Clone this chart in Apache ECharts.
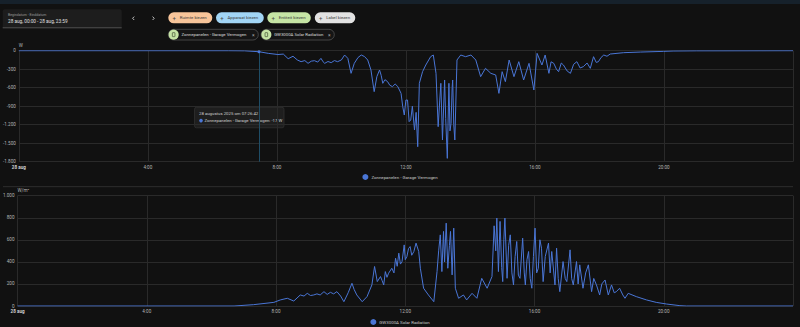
<!DOCTYPE html>
<html><head><meta charset="utf-8">
<script src="https://cdn.jsdelivr.net/npm/echarts@6/dist/echarts.min.js"></script>
<style>html,body{margin:0;padding:0;background:#111111;}#c{width:800px;height:327px;}</style>
</head><body><div id="c"></div>
<script>
// ---- Data ----
const topName = "Zonnepanelen - Garage Vermogen";
const bottomName = "GW3000A Solar Radiation";
const xTickHours = [0, 4, 8, 12, 16, 20];
const xTickLabels = ["28 aug", "4:00", "8:00", "12:00", "16:00", "20:00"];
const cursorTime = "7:26:42";
const cursorValue = -17;

const topTimes = ["0:00","6:30","7:00","7:27","7:44","8:02","8:12","8:21","8:30","8:38","8:45","8:52","8:58","9:04","9:10","9:16","9:22","9:26","9:29","9:35","9:41","9:47","9:53","10:00","10:06","10:12","10:18","10:24","10:31","10:37","10:43","10:49","10:55","11:01","11:06","11:11","11:14","11:17","11:21","11:26","11:30","11:35","11:40","11:45","11:51","11:54","11:57","12:00","12:03","12:06","12:09","12:12","12:16","12:19","12:22","12:25","12:31","12:37","12:46","12:51","12:56","13:00","13:03","13:05","13:08","13:12","13:14","13:17","13:20","13:22","13:24","13:26","13:27","13:29","13:31","13:35","13:42","13:51","14:01","14:10","14:19","14:28","14:38","14:47","14:53","14:59","15:05","15:12","15:21","15:30","15:39","15:49","15:58","16:04","16:13","16:19","16:26","16:30","16:35","16:40","16:44","16:49","16:53","17:00","17:06","17:12","17:18","17:24","17:30","17:37","17:43","17:49","17:54","17:58","18:03","18:08","18:14","18:20","18:45","19:16","19:59","20:17","21:00","24:00"];
const topValues = [0,0,-2,-17,-43,-62,-55,-130,-90,-150,-178,-160,-205,-170,-162,-185,-124,-180,-205,-175,-194,-160,-178,-150,-70,-124,-367,-205,-110,-70,-95,-151,-313,-664,-420,-313,-400,-529,-470,-502,-560,-583,-540,-583,-692,-900,-1043,-800,-800,-1150,-1124,-900,-1286,-1000,-1557,-529,-340,-232,-97,-70,-367,-1232,-800,-529,-1448,-475,-1100,-1746,-529,-1300,-1178,-600,-475,-1200,-1448,-151,-70,-97,-70,-151,-421,-286,-367,-394,-692,-340,-502,-151,-421,-178,-475,-205,-637,-43,-232,-70,-367,-180,-205,-300,-340,-200,-232,-330,-367,-220,-178,-280,-259,-200,-286,-97,-190,-178,-110,-70,-90,-54,-32,-22,-11,-5,-2,0];

const bottomTimes = ["0:00","6:42","7:18","7:56","8:08","8:21","8:33","8:45","8:52","8:58","9:04","9:10","9:16","9:22","9:29","9:35","9:41","9:47","9:53","10:00","10:06","10:14","10:21","10:25","10:30","10:40","10:49","10:58","11:03","11:08","11:14","11:17","11:20","11:23","11:26","11:29","11:35","11:39","11:42","11:45","11:48","11:51","11:54","11:58","12:00","12:03","12:06","12:09","12:12","12:16","12:20","12:25","12:28","12:34","12:43","12:53","12:59","13:02","13:05","13:08","13:11","13:13","13:16","13:19","13:22","13:24","13:27","13:30","13:33","13:39","13:48","13:54","14:04","14:13","14:22","14:32","14:41","14:45","14:48","14:50","14:53","14:56","14:59","15:01","15:03","15:05","15:09","15:12","15:15","15:18","15:21","15:24","15:27","15:30","15:33","15:38","15:41","15:43","15:46","15:49","15:52","15:55","15:58","16:01","16:04","16:07","16:10","16:13","16:16","16:20","16:26","16:29","16:32","16:38","16:41","16:44","16:47","16:53","16:57","17:00","17:06","17:09","17:12","17:18","17:21","17:24","17:30","17:35","17:40","17:46","17:50","17:55","18:01","18:05","18:11","18:17","18:23","18:28","18:32","18:38","18:44","18:48","18:54","19:09","19:28","19:46","20:05","20:30","20:42","24:00"];
const bottomValues = [0,0,12,33,55,70,45,100,90,115,95,100,110,100,130,105,124,110,130,90,39,120,206,150,100,39,85,191,358,221,267,230,191,312,260,297,342,300,433,360,479,380,403,554,420,448,520,539,460,494,570,494,342,161,100,39,312,500,645,312,676,400,751,342,550,676,282,706,161,70,100,55,115,70,251,161,267,727,500,797,312,767,350,221,600,797,251,550,645,300,191,450,585,280,251,615,300,191,420,494,250,161,450,706,300,342,600,524,221,450,570,300,494,191,524,250,130,403,250,221,509,250,191,403,200,373,161,300,373,130,250,191,100,200,236,100,191,120,130,161,100,70,115,85,55,33,18,3,0,0];

// ---- Helpers ----
function hrs(t){ const p = t.split(':'); return (+p[0]) + (+p[1])/60 + (p[2]? (+p[2])/3600 : 0); }
function pairs(ts, vs){ return ts.map((t,i)=>[hrs(t), vs[i]]); }
function nl(v){ const a = Math.abs(v); let s = a >= 1000 ? Math.floor(a/1000) + '.' + String(a%1000).padStart(3,'0') : String(a); return (v<0?'-':'') + s; }
function xFmt(v){ const i = xTickHours.indexOf(v); if(i<0) return ''; return i===0 ? '{b|'+xTickLabels[0]+'}' : xTickLabels[i]; }

const FONT = 'Roboto';
const LC = '#4a76d6';
const axisLabelStyle = {color:'#b5b5b5', fontSize:4.6, fontFamily:FONT};

const chart = echarts.init(document.getElementById('c'), null, {renderer:'svg'});

function chip(x, y, w, h, fill, label){
  return {type:'group', children:[
    {type:'rect', shape:{x:x,y:y,width:w,height:h,r:h/2}, style:{fill:fill}},
    {type:'text', style:{x:x+6, y:y+h/2, text:'+', fill:'#4a4a4a', fontSize:6, fontFamily:FONT, align:'center', verticalAlign:'middle'}},
    {type:'text', style:{x:x+11.5, y:y+h/2, text:label, fill:'#3a3a3a', fontSize:4.3, fontFamily:FONT, verticalAlign:'middle'}}
  ]};
}
function entChip(x, y, w, h, label){
  return {type:'group', children:[
    {type:'rect', shape:{x:x,y:y,width:w,height:h,r:h/2}, style:{fill:'#151515', stroke:'#5a5a5a', lineWidth:0.7}},
    {type:'circle', shape:{cx:x+h/2, cy:y+h/2, r:h/2-0.3}, style:{fill:'#c5e3a5'}},
    {type:'rect', shape:{x:x+h/2-1.3, y:y+h/2-2, width:2.6, height:4, r:0.4}, style:{fill:'none', stroke:'#2d3a22', lineWidth:0.6}},
    {type:'text', style:{x:x+h+2.5, y:y+h/2, text:label, fill:'#dcdcdc', fontSize:4.3, fontFamily:FONT, verticalAlign:'middle'}},
    {type:'text', style:{x:x+w-5, y:y+h/2, text:'×', fill:'#aaaaaa', fontSize:5, fontFamily:FONT, align:'center', verticalAlign:'middle'}}
  ]};
}

const option = {
  backgroundColor:'#111111',
  animation:false,
  textStyle:{fontFamily:FONT},
  grid:[
    {left:17, right:7, top:50.7, height:111},
    {left:17, right:7, top:195.7, height:110.3}
  ],
  legend:[
    {data:[topName], left:'center', top:174, padding:0, icon:'circle', itemWidth:6, itemHeight:6, itemGap:4,
     textStyle:{color:'#c8c8c8', fontSize:4.4, fontFamily:FONT, padding:[0,0,0,-2]}, selectedMode:false},
    {data:[bottomName], left:'center', top:319, padding:0, icon:'circle', itemWidth:6, itemHeight:6, itemGap:4,
     textStyle:{color:'#c8c8c8', fontSize:4.4, fontFamily:FONT, padding:[0,0,0,-2]}, selectedMode:false}
  ],
  xAxis:[0,1].map(i=>({
    type:'value', gridIndex:i, min:0, max:24, interval:4,
    axisLine:{show:false}, axisTick:{show:false},
    splitLine:{show:true, lineStyle:{color:'#2a2a2a', width:1}},
    axisLabel:Object.assign({}, axisLabelStyle, {margin:3, formatter:xFmt, showMaxLabel:false,
      rich:{b:{fontWeight:'bold', color:'#d0d0d0', fontSize:4.6, fontFamily:FONT}}})
  })),
  yAxis:[
    {type:'value', gridIndex:0, min:-1800, max:0, interval:300, name:'W',
     nameGap:2, nameTextStyle:{color:'#b5b5b5', fontSize:4.6, fontFamily:FONT, align:'left', padding:[0,0,0,0]},
     axisLine:{show:false}, axisTick:{show:false},
     splitLine:{lineStyle:{color:'#2a2a2a', width:1}},
     axisLabel:Object.assign({}, axisLabelStyle, {margin:3, formatter:nl})},
    {type:'value', gridIndex:1, min:0, max:1000, interval:200, name:'W/m²',
     nameGap:2, nameTextStyle:{color:'#b5b5b5', fontSize:4.6, fontFamily:FONT, align:'left'},
     axisLine:{show:false}, axisTick:{show:false},
     splitLine:{lineStyle:{color:'#2a2a2a', width:1}},
     axisLabel:Object.assign({}, axisLabelStyle, {margin:3, formatter:nl})}
  ],
  series:[
    {name:topName, type:'line', xAxisIndex:0, yAxisIndex:0, data:pairs(topTimes, topValues),
     showSymbol:false, color:LC, lineStyle:{width:1, color:LC},
     markLine:{silent:true, symbol:['none','none'], label:{show:false},
       lineStyle:{color:'#1f4d66', width:1, type:'solid', opacity:1},
       emphasis:{disabled:true}, data:[{xAxis:hrs(cursorTime)}]},
     markPoint:{silent:true, symbol:'circle', symbolSize:3, itemStyle:{color:LC}, label:{show:false},
       data:[{coord:[hrs(cursorTime), cursorValue]}]}},
    {name:bottomName, type:'line', xAxisIndex:1, yAxisIndex:1, data:pairs(bottomTimes, bottomValues),
     showSymbol:false, color:LC, lineStyle:{width:1, color:LC}}
  ],
  graphic:[
    {type:'rect', shape:{x:0,y:0,width:800,height:4}, style:{fill:'#16212b'}},
    {type:'rect', shape:{x:2.7,y:9.3,width:119,height:18.5,r:[2,2,0,0]}, style:{fill:'#1d1d1d'}},
    {type:'line', shape:{x1:2.7,y1:27.8,x2:121.7,y2:27.8}, style:{stroke:'#6a6a6a', lineWidth:0.7}},
    {type:'text', style:{x:8, y:14.6, text:'Begindatum - Einddatum', fill:'#9a9a9a', fontSize:3.5, fontFamily:FONT, verticalAlign:'middle'}},
    {type:'text', style:{x:8, y:21.3, text:'28 aug, 00:00 - 28 aug, 23:59', fill:'#e0e0e0', fontSize:4.7, fontFamily:FONT, verticalAlign:'middle'}},
    {type:'polyline', shape:{points:[[134.2,16.6],[132.6,18.3],[134.2,20]]}, style:{stroke:'#d0d0d0', lineWidth:0.9, fill:'none'}},
    {type:'polyline', shape:{points:[[152.6,16.6],[154.2,18.3],[152.6,20]]}, style:{stroke:'#d0d0d0', lineWidth:0.9, fill:'none'}},
    chip(168.3, 12.3, 44, 11, '#f8c59a', 'Ruimte kiezen'),
    chip(216, 12.3, 47.8, 11, '#a2d5f5', 'Apparaat kiezen'),
    chip(267.3, 12.3, 43.5, 11, '#c6e5a5', 'Entiteit kiezen'),
    chip(314.8, 12.3, 40.5, 11, '#e2e2e2', 'Label kiezen'),
    entChip(168.3, 29.3, 90, 10.7, topName),
    entChip(261, 29.3, 73.3, 10.7, bottomName),
    {type:'line', shape:{x1:3,y1:186.7,x2:793,y2:186.7}, style:{stroke:'#2e2e2e', lineWidth:1}},
    {type:'group', children:[
      {type:'rect', shape:{x:194.5,y:107.3,width:89.5,height:20.5,r:2}, style:{fill:'#1e1e1e', stroke:'#343434', lineWidth:0.7}},
      {type:'text', style:{x:199, y:113.6, text:'28 augustus 2025 om 07:26:42', fill:'#cfcfcf', fontSize:4.3, fontFamily:FONT, verticalAlign:'middle'}},
      {type:'circle', shape:{cx:201, cy:120.6, r:1.8}, style:{fill:LC}},
      {type:'text', style:{x:204.5, y:120.6, text:topName + ': -17 W', fill:'#cfcfcf', fontSize:4.3, fontFamily:FONT, verticalAlign:'middle'}}
    ]}
  ]
};
chart.setOption(option);
</script>
</body></html>
